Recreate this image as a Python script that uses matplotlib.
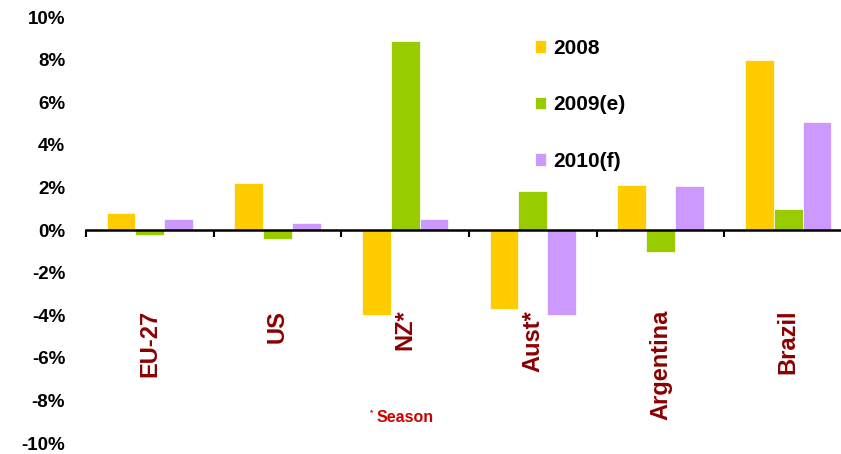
#!/usr/bin/env python3
"""Production change by region, 2008-2010(f)."""

import numpy as np
import matplotlib
matplotlib.use("Agg")
import matplotlib.pyplot as plt

plt.rcParams["font.family"] = ["Liberation Sans", "DejaVu Sans"]
plt.rcParams["font.weight"] = "bold"

# ---- Data (percent change) ----
regions = ["EU-27", "US", "NZ*", "Aust*", "Argentina", "Brazil"]
series_names = ["2008", "2009(e)", "2010(f)"]
vals_2008 = [0.8, 2.2, -4.0, -3.7, 2.1, 8.0]
vals_2009 = [-0.25, -0.4, 8.85, 1.85, -1.05, 1.0]
vals_2010 = [0.5, 0.35, 0.5, -4.0, 2.05, 5.08]
colors = ["#FFCC00", "#99CC00", "#CC99FF"]

# ---- Plot ----
fig = plt.figure(figsize=(8.41, 4.54), dpi=100, facecolor="white")
ax = fig.add_axes([86 / 841, 11 / 454, 766 / 841, 426 / 454])

x = np.arange(len(regions))
width = 0.225
for k, (vals, name, col) in enumerate(zip([vals_2008, vals_2009, vals_2010], series_names, colors)):
    ax.bar(x + (k - 1) * width, vals, width, color=col, edgecolor="white",
           linewidth=0.5, label=name, zorder=2)

ax.set_xlim(-0.5, len(regions) - 0.5)
ax.set_ylim(-10, 10)

# y axis: labels only
yt = np.arange(-10, 11, 2)
ax.set_yticks(yt)
ax.set_yticklabels([f"{v}%" for v in yt], fontsize=13.5, fontweight="bold")
ax.tick_params(axis="y", length=0, pad=15)

# x axis: line at zero, tick marks between categories
for s in ["left", "right", "top"]:
    ax.spines[s].set_visible(False)
ax.spines["bottom"].set_position(("data", 0))
ax.spines["bottom"].set_linewidth(1.8)
ax.spines["bottom"].set_zorder(3)
ax.set_xticks(x)
ax.set_xticklabels([])
ax.tick_params(axis="x", which="major", length=0)
ax.set_xticks(np.arange(-0.5, len(regions), 1.0), minor=True)
ax.tick_params(axis="x", which="minor", length=5, width=1.5, direction="out")

for i, name in enumerate(regions):
    ax.text(i, -3.75, name, rotation=90, ha="center", va="top",
            fontsize=17, fontweight="bold", color="#8B0000")

ax.legend(loc="upper left", bbox_to_anchor=(516 / 841, 1 - 20 / 454),
          bbox_transform=fig.transFigure, frameon=False, fontsize=15,
          handlelength=0.55, handleheight=0.55, handletextpad=0.35,
          labelspacing=1.8)

fig.text(370 / 841, 1 - 413 / 454, "*", fontsize=6, color="#CC0000",
         fontweight="bold", va="center")
fig.text(377 / 841, 1 - 417 / 454, "Season", fontsize=11.5, color="#CC0000",
         fontweight="bold", va="center")

fig.savefig("out.png", dpi=100, facecolor="white")
plt.close()
